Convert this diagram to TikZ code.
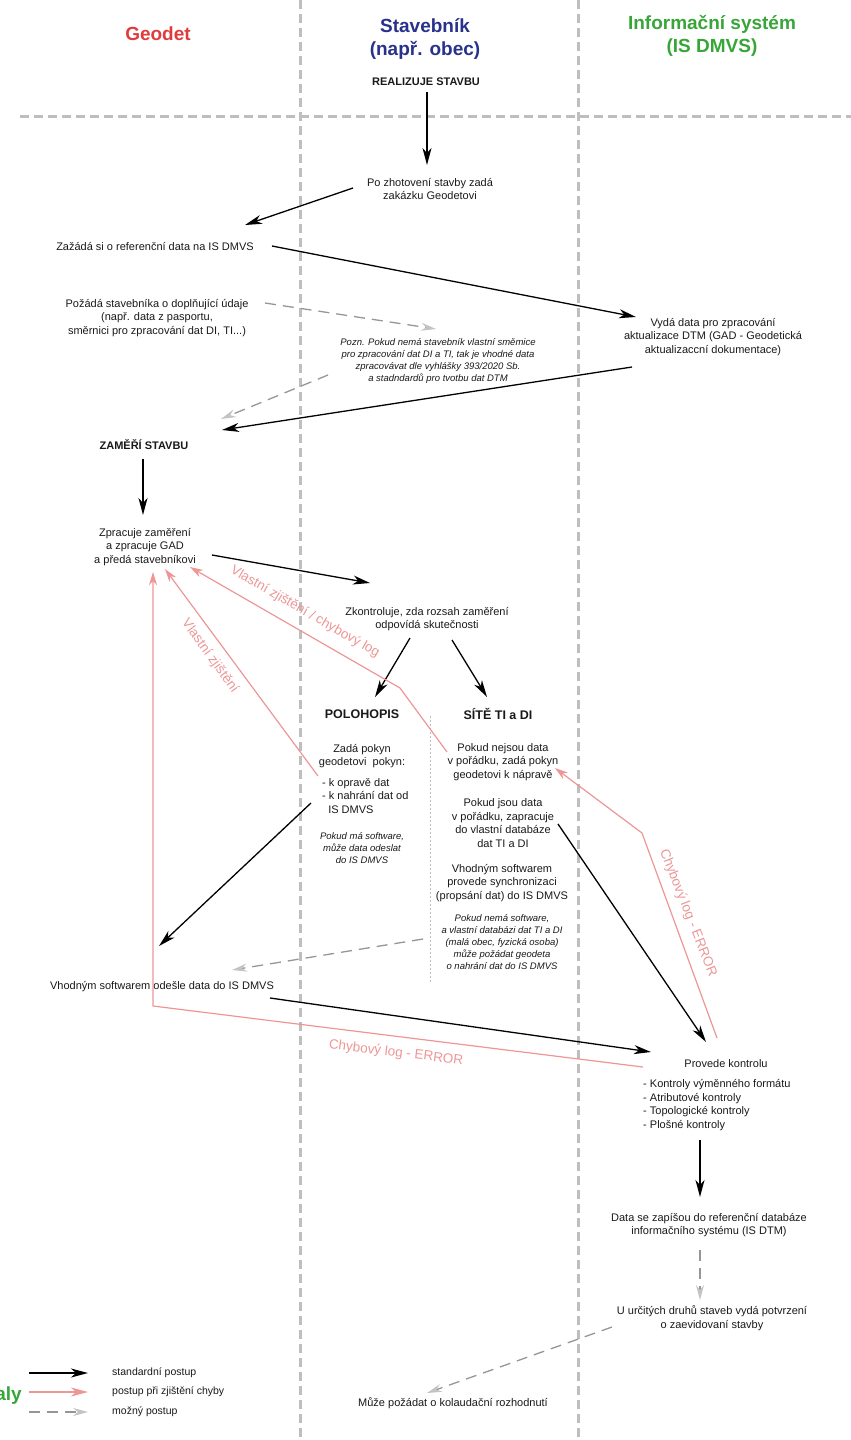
\documentclass[tikz,border=0pt]{standalone}
\usepackage{fontspec}
\setmainfont{Liberation Sans}
\usepackage{tikz}
\usetikzlibrary{positioning,arrows.meta,calc}
\definecolor{geored}{RGB}{222,60,60}
\definecolor{stavblue}{RGB}{40,50,140}
\definecolor{isgreen}{RGB}{55,165,55}
\definecolor{errpink}{RGB}{236,150,150}
\definecolor{lanegray}{RGB}{190,190,190}
\definecolor{optgray}{RGB}{150,150,150}
\definecolor{tipgray}{RGB}{195,195,195}
\newcommand{\flowtxt}{\fontsize{11}{13.5}\selectfont}
\newcommand{\notetxt}{\fontsize{9.5}{12}\selectfont\itshape}
\newcommand{\headtxt}{\fontsize{11}{13}\selectfont\bfseries}
\newcommand{\branchtxt}{\fontsize{12.5}{14}\selectfont\bfseries}
\newcommand{\lanetitle}{\fontsize{19}{23}\selectfont\bfseries}
\newcommand{\errtxt}{\fontsize{13.5}{15}\selectfont}

\begin{document}
\begin{tikzpicture}[x=1pt, y=-1pt,
  every node/.style={inner sep=0pt, align=center, font=\flowtxt, text=black!90},
  std/.style={draw=black, line width=1.3pt, -{Stealth[length=17pt, width=9pt, inset=5pt]}},
  err/.style={draw=errpink, line width=1.2pt, -{Stealth[length=13pt, width=8pt, inset=4pt]}},
  opt/.style={draw=optgray, line width=1.3pt, dash pattern=on 11pt off 7pt,
    -{Stealth[length=15pt, width=8pt, inset=5pt, color=tipgray, fill=tipgray]}},
  lane/.style={draw=lanegray, line width=3pt, dash pattern=on 9pt off 5pt},
  errlabel/.style={text=errpink, font=\errtxt}]
  \useasboundingbox (0,0) rectangle (851,1440);

  % swimlanes
  \draw[lane] (300,0) -- (300,1440);
  \draw[lane] (578,0) -- (578,1440);
  \draw[lane] (20,116) -- (851,116);
  \draw[draw=lanegray, line width=0.8pt, dash pattern=on 2pt off 2pt] (430,716) -- (430,984);

  % lane titles
  \node[font=\lanetitle, text=geored] (geodet) at (158,34) {Geodet};
  \node[font=\lanetitle, text=stavblue] (stavebnik) at (425,39) {Stavebník\\(např. obec)};
  \node[font=\lanetitle, text=isgreen] (infosys) at (712,36) {Informační systém\\(IS DMVS)};

  % steps
  \node[font=\headtxt] (realize) at (426,82) {REALIZUJE STAVBU};
  \node (zhotov) at (430,189) {Po zhotovení stavby zadá\\zakázku Geodetovi};
  \node (zazada) at (155,247) {Zažádá si o referenční data na IS DMVS};
  \node (pozada) at (157,318) {Požádá stavebníka o doplňující údaje\\(např. data z pasportu,\\směrnici pro zpracování dat DI, TI...)};
  \node[font=\notetxt] (pozn) at (438,361) {Pozn. Pokud nemá stavebník vlastní směmice\\pro zpracování dat DI a TI, tak je vhodné data\\zpracovávat dle vyhlášky 393/2020 Sb.\\a stadndardů pro tvotbu dat DTM};
  \node (vyda) at (713,337) {Vydá data pro zpracování\\aktualizace DTM (GAD - Geodetická\\aktualizaccní dokumentace)};
  \node[font=\headtxt] (zameri) at (144,445) {ZAMĚŘÍ STAVBU};
  \node (zprac) at (145,547) {Zpracuje zaměření\\a zpracuje GAD\\a předá stavebníkovi};
  \node (zkontr) at (427,619) {Zkontroluje, zda rozsah zaměření\\odpovídá skutečnosti};
  \node[font=\branchtxt] (poloh) at (362,714) {POLOHOPIS};
  \node[font=\branchtxt] (site) at (498,714) {SÍTĚ TI a DI};
  \node (zadap) at (362,756) {Zadá pokyn\\geodetovi~ pokyn:};
  \node[align=left, anchor=west] (kopr) at (322,796) {- k opravě dat\\- k nahrání dat od\\\hspace{0.55em}IS DMVS};
  \node[font=\notetxt] (pokudma) at (362,848) {Pokud má software,\\může data odeslat\\do IS DMVS};
  \node (nejsou) at (503,762) {Pokud nejsou data\\v pořádku, zadá pokyn\\geodetovi k nápravě};
  \node (jsou) at (503,823) {Pokud jsou data\\v pořádku, zapracuje\\do vlastní databáze\\dat TI a DI};
  \node (vhsync) at (502,883) {Vhodným softwarem\\provede synchronizaci\\(propsání dat) do IS DMVS};
  \node[font=\notetxt] (pokudnema) at (502,942) {Pokud nemá software,\\a vlastní databázi dat TI a DI\\(malá obec, fyzická osoba)\\může požádat geodeta\\o nahrání dat do IS DMVS};
  \node (odesle) at (162,987) {Vhodným softwarem odešle data do IS DMVS};
  \node (kontrola) at (726,1064) {Provede kontrolu};
  \node[align=left, anchor=west] (klist) at (643,1105) {- Kontroly výměnného formátu\\- Atributové kontroly\\- Topologické kontroly\\- Plošné kontroly};
  \node (zapis) at (709,1225) {Data se zapíšou do referenční databáze\\informačního systému (IS DTM)};
  \node (potvr) at (712,1318) {U určitých druhů staveb vydá potvrzení\\o zaevidovaní stavby};
  \node (kolaud) at (453,1403) {Může požádat o kolaudační rozhodnutí};

  % standard flow
  \draw[std] ($(realize)+(1,10)$) -- ($(zhotov)+(-3,-24)$);
  \draw[std] ($(zhotov)+(-77,-1)$) -- ($(zazada)+(90,-22)$);
  \draw[std] ($(zazada)+(117,-1)$) -- ($(vyda)+(-77,-20)$);
  \draw[std] ($(vyda)+(-81,30)$) -- ($(zameri)+(78,-15)$);
  \draw[std] ($(zameri)+(-1,14)$) -- ($(zprac)+(-2,-32)$);
  \draw[std] ($(zprac)+(67,8)$) -- ($(zkontr)+(-57,-36)$);
  \draw[std] ($(zkontr)+(-17,19)$) -- ($(poloh)+(13,-17)$);
  \draw[std] ($(zkontr)+(25,21)$) -- ($(site)+(-11,-17)$);
  \draw[std] ($(kopr.west)+(-11,7)$) -- ($(odesle)+(-3,-41)$);
  \draw[std] ($(odesle)+(108,11)$) -- ($(kontrola)+(-75,-12)$);
  \draw[std] ($(jsou)+(55,1)$) -- ($(kontrola)+(-20,-22)$);
  \draw[std] ($(klist.west)+(57,35)$) -- ($(zapis)+(-9,-28)$);

  % possible flow
  \draw[opt] ($(pozada)+(108,-15)$) -- ($(pozn)+(-2,-32)$);
  \draw[opt] ($(pozn)+(-110,14)$) -- ($(zameri)+(77,-26)$);
  \draw[opt] ($(pokudnema)+(-79,-3)$) -- ($(odesle)+(70,-17)$);
  \draw[opt] ($(zapis)+(-9,25)$) -- ($(potvr)+(-12,-18)$);
  \draw[opt] ($(potvr)+(-100,9)$) -- ($(kolaud)+(-26,-10)$);

  % error flow
  \coordinate (bendR) at (642,833);
  \coordinate (cornerL) at (153,1006);
  \coordinate (bendS) at (400,688);
  \draw[err] ($(kontrola)+(-9,-26)$) -- (bendR) -- ($(nejsou)+(52,6)$);
  \draw[err] ($(kontrola)+(-83,3)$) -- (cornerL) -- ($(zprac)+(8,25)$);
  \draw[err] ($(kopr.west)+(-4,-20)$) -- ($(zprac)+(20,22)$);
  \draw[err] ($(nejsou)+(-56,-10)$) -- (bendS) -- ($(zprac)+(45,20)$);
  \node[errlabel, rotate=-68.5] (errR) at (688,913) {Chybový log - ERROR};
  \node[errlabel, rotate=-7] (errB) at (396,1053) {Chybový log - ERROR};
  \node[errlabel, rotate=-54] (vlast) at (210,656) {Vlastní zjištění};
  \node[errlabel, rotate=-30] (vlastlog) at (305,612) {Vlastní zjištění / chybový log};

  % legend
  \node[font=\lanetitle, text=isgreen, anchor=east] (cut) at (22,1396) {aly};
  \node[anchor=west, font=\fontsize{10.5}{12}\selectfont] (legstd) at (112,1373) {standardní postup};
  \node[anchor=west, font=\fontsize{10.5}{12}\selectfont] (legerr) at (112,1392) {postup při zjištění chyby};
  \node[anchor=west, font=\fontsize{10.5}{12}\selectfont] (legopt) at (112,1412) {možný postup};
  \draw[std] ($(legstd.west)+(-83,0)$) -- ($(legstd.west)+(-24,0)$);
  \draw[err, -{Stealth[length=17pt, width=9pt, inset=5pt]}] ($(legerr.west)+(-83,0)$) -- ($(legerr.west)+(-24,0)$);
  \draw[opt] ($(legopt.west)+(-83,0)$) -- ($(legopt.west)+(-24,0)$);
\end{tikzpicture}
\end{document}
